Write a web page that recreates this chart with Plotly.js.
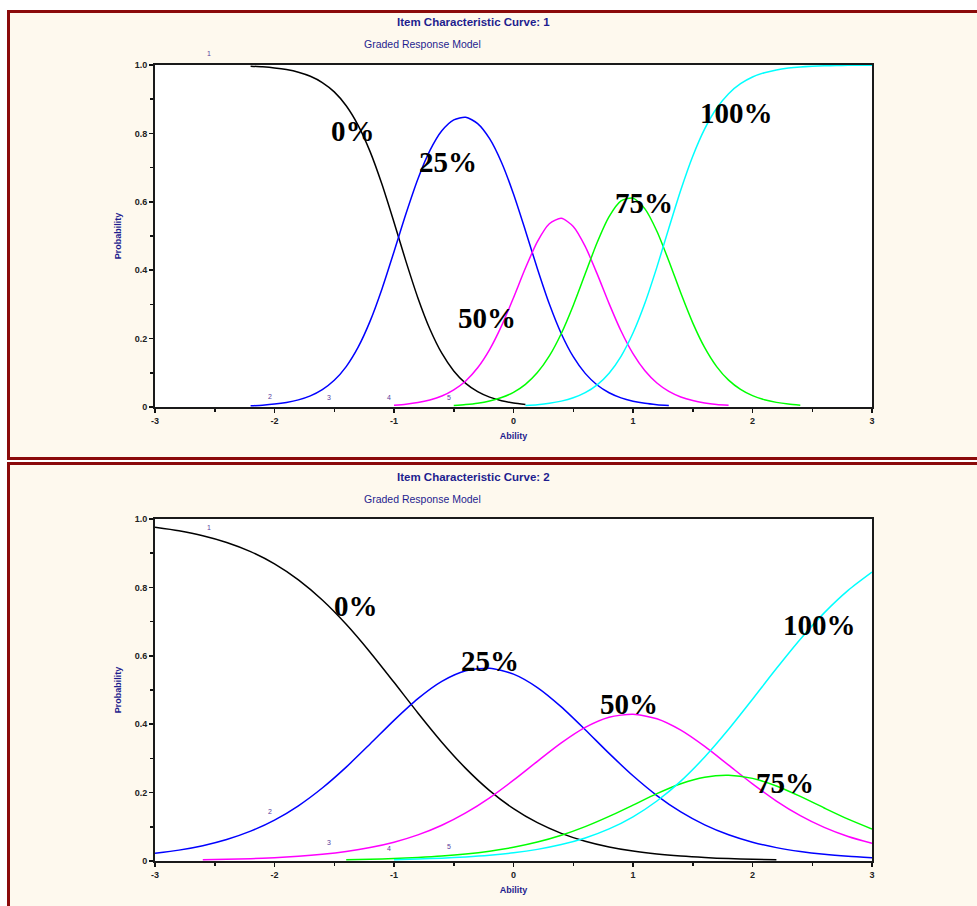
<!DOCTYPE html>
<html><head><meta charset="utf-8">
<script src="https://cdn.plot.ly/plotly-3.0.1.min.js"></script>
<style>
html,body{margin:0;padding:0;background:#ffffff;overflow:hidden;width:977px;height:906px;}
.panel{position:absolute;left:7px;width:1000px;background:#FEF9EE;border:3px solid #8B0A0A;border-right:none;box-sizing:border-box;}
#p1{top:10px;height:450px;}
#p2{top:462px;height:500px;border-bottom:none;}
.chart{position:absolute;left:0;width:977px;}
#c1{top:0;height:460px;}
#c2{top:462px;height:444px;}
</style></head>
<body>
<div class="panel" id="p1"></div>
<div class="panel" id="p2"></div>
<div class="chart" id="c1"></div>
<div class="chart" id="c2"></div>
<script>
// ---------- DATA ----------
const categories = ['0%', '25%', '50%', '75%', '100%'];
const curveNumbers = ['1', '2', '3', '4', '5'];
const xTickVals = [-3, -2, -1, 0, 1, 2, 3];
const xTickText = ['-3', '-2', '-1', '0', '1', '2', '3'];
const yTickVals = [0, 0.2, 0.4, 0.6, 0.8, 1.0];
const yTickText = ['0', '0.2', '0.4', '0.6', '0.8', '1.0'];

// Item 1
const icc1_theta_0 = [-2.2,-2.1,-2.0,-1.9,-1.8,-1.7,-1.6,-1.5,-1.4,-1.3,-1.2,-1.1,-1.0,-0.9,-0.8,-0.7,-0.6,-0.5,-0.4,-0.3,-0.2,-0.1,0.0,0.1];
const icc1_p_0 = [0.9966,0.9946,0.9915,0.9866,0.9790,0.9671,0.9488,0.9214,0.8809,0.8236,0.7467,0.6504,0.5402,0.4258,0.3189,0.2281,0.1572,0.1054,0.0691,0.0448,0.0288,0.0184,0.0117,0.0074];
const icc1_theta_25 = [-2.2,-2.1,-2.0,-1.9,-1.8,-1.7,-1.6,-1.5,-1.4,-1.3,-1.2,-1.1,-1.0,-0.9,-0.8,-0.7,-0.6,-0.5,-0.4,-0.3,-0.2,-0.1,0.0,0.1,0.2,0.3,0.4,0.5,0.6,0.7,0.8,0.9,1.0,1.1,1.2,1.3];
const icc1_p_25 = [0.0034,0.0054,0.0085,0.0134,0.0209,0.0326,0.0508,0.0780,0.1182,0.1749,0.2510,0.3460,0.4540,0.5651,0.6668,0.7494,0.8076,0.8397,0.8471,0.8287,0.7846,0.7150,0.6229,0.5156,0.4043,0.3010,0.2143,0.1471,0.0983,0.0644,0.0417,0.0267,0.0171,0.0108,0.0069,0.0044];
const icc1_theta_50 = [-1.0,-0.9,-0.8,-0.7,-0.6,-0.5,-0.4,-0.3,-0.2,-0.1,0.0,0.1,0.2,0.3,0.4,0.5,0.6,0.7,0.8,0.9,1.0,1.1,1.2,1.3,1.4,1.5,1.6,1.7,1.8];
const icc1_p_50 = [0.0053,0.0083,0.0131,0.0206,0.0322,0.0502,0.0762,0.1146,0.1678,0.2371,0.3196,0.4063,0.4835,0.5357,0.5516,0.5278,0.4696,0.3892,0.3023,0.2221,0.1559,0.1058,0.0701,0.0456,0.0294,0.0188,0.0120,0.0076,0.0049];
const icc1_theta_75 = [-0.5,-0.4,-0.3,-0.2,-0.1,0.0,0.1,0.2,0.3,0.4,0.5,0.6,0.7,0.8,0.9,1.0,1.1,1.2,1.3,1.4,1.5,1.6,1.7,1.8,1.9,2.0,2.1,2.2,2.3,2.4];
const icc1_p_75 = [0.0044,0.0072,0.0112,0.0177,0.0277,0.0430,0.0663,0.1006,0.1494,0.2150,0.2970,0.3894,0.4810,0.5567,0.6027,0.6107,0.5793,0.5140,0.4270,0.3332,0.2461,0.1735,0.1182,0.0785,0.0515,0.0331,0.0212,0.0135,0.0086,0.0054];
const icc1_theta_100 = [0.1,0.2,0.3,0.4,0.5,0.6,0.7,0.8,0.9,1.0,1.1,1.2,1.3,1.4,1.5,1.6,1.7,1.8,1.9,2.0,2.1,2.2,2.3,2.4,2.5,2.6,2.7,2.8,2.9,3.0];
const icc1_p_100 = [0.0044,0.0069,0.0109,0.0172,0.0269,0.0420,0.0649,0.0990,0.1483,0.2162,0.3040,0.4090,0.5230,0.6346,0.7334,0.8134,0.8735,0.9162,0.9452,0.9648,0.9775,0.9857,0.9909,0.9943,0.9964,0.9977,0.9985,0.9991,0.9994,0.9996];

// Item 2
const icc2_theta_0 = [-3.0,-2.8,-2.6,-2.4,-2.2,-2.0,-1.8,-1.6,-1.4,-1.2,-1.0,-0.8,-0.6,-0.4,-0.2,0.0,0.2,0.4,0.6,0.8,1.0,1.2,1.4,1.6,1.8,2.0,2.2];
const icc2_p_0 = [0.9756,0.9654,0.9512,0.9315,0.9047,0.8688,0.8220,0.7631,0.6921,0.6106,0.5225,0.4329,0.3475,0.2709,0.2059,0.1532,0.1120,0.0809,0.0579,0.0411,0.0290,0.0204,0.0143,0.0100,0.0070,0.0049,0.0034];
const icc2_theta_25 = [-3.0,-2.8,-2.6,-2.4,-2.2,-2.0,-1.8,-1.6,-1.4,-1.2,-1.0,-0.8,-0.6,-0.4,-0.2,0.0,0.2,0.4,0.6,0.8,1.0,1.2,1.4,1.6,1.8,2.0,2.2,2.4,2.6,2.8,3.0];
const icc2_p_25 = [0.0225,0.0318,0.0448,0.0628,0.0872,0.1196,0.1615,0.2134,0.2745,0.3422,0.4113,0.4748,0.5253,0.5563,0.5637,0.5465,0.5072,0.4506,0.3839,0.3146,0.2491,0.1914,0.1436,0.1057,0.0767,0.0550,0.0391,0.0277,0.0195,0.0137,0.0096];
const icc2_theta_50 = [-2.6,-2.4,-2.2,-2.0,-1.8,-1.6,-1.4,-1.2,-1.0,-0.8,-0.6,-0.4,-0.2,0.0,0.2,0.4,0.6,0.8,1.0,1.2,1.4,1.6,1.8,2.0,2.2,2.4,2.6,2.8,3.0];
const icc2_p_50 = [0.0034,0.0048,0.0068,0.0097,0.0138,0.0197,0.0279,0.0394,0.0550,0.0763,0.1045,0.1406,0.1848,0.2363,0.2915,0.3452,0.3905,0.4202,0.4292,0.4158,0.3825,0.3350,0.2803,0.2255,0.1754,0.1327,0.0982,0.0715,0.0515];
const icc2_theta_75 = [-1.4,-1.2,-1.0,-0.8,-0.6,-0.4,-0.2,0.0,0.2,0.4,0.6,0.8,1.0,1.2,1.4,1.6,1.8,2.0,2.2,2.4,2.6,2.8,3.0];
const icc2_p_75 = [0.0035,0.0050,0.0072,0.0102,0.0144,0.0204,0.0288,0.0401,0.0553,0.0753,0.1004,0.1303,0.1635,0.1970,0.2260,0.2452,0.2509,0.2416,0.2194,0.1888,0.1551,0.1224,0.0936];
const icc2_theta_100 = [-1.0,-0.8,-0.6,-0.4,-0.2,0.0,0.2,0.4,0.6,0.8,1.0,1.2,1.4,1.6,1.8,2.0,2.2,2.4,2.6,2.8,3.0];
const icc2_p_100 = [0.0040,0.0058,0.0083,0.0118,0.0168,0.0239,0.0340,0.0480,0.0673,0.0938,0.1292,0.1754,0.2336,0.3041,0.3851,0.4730,0.5627,0.6484,0.7255,0.7912,0.8445];

// label anchor positions (ability, probability)
const icc1_labelX = [-1.34, -0.546, -0.22, 1.09, 1.87];
const icc1_labelY = [0.807, 0.716, 0.26, 0.596, 0.86];
const icc2_labelX = [-1.317, -0.195, 0.968, 2.27, 2.557];
const icc2_labelY = [0.746, 0.585, 0.459, 0.228, 0.69];
const icc1_numX = [-2.546, -2.04, -1.54, -1.04, -0.54];
const icc1_numY = [1.035, 0.032, 0.029, 0.029, 0.029];
const icc2_numX = [-2.546, -2.04, -1.54, -1.04, -0.54];
const icc2_numY = [0.974, 0.146, 0.054, 0.038, 0.042];

// ---------- DRAW ----------
const W = 977;
const COLORS = ['#000000', '#0000FF', '#FF00FF', '#00FF00', '#00FFFF'];
const NAVY = '#1E1E8E';

function build(divId, H, m, thetas, probs, titleText, titlePx, subPx, labX, labY, numX, numY) {
  const pw = W - m.l - m.r, ph = H - m.t - m.b;
  const px = v => (v - m.l) / pw;
  const py = v => 1 - (v - m.t) / ph;
  const traces = thetas.map((t, i) => ({
    x: t, y: probs[i], type: 'scatter', mode: 'lines', name: categories[i],
    line: { color: COLORS[i], width: 1.5, shape: 'spline', smoothing: 0.7 },
    hoverinfo: 'skip', showlegend: false
  }));
  const ann = [];
  ann.push({ xref: 'paper', yref: 'paper', x: px(titlePx[0]), y: py(titlePx[1]), xanchor: 'left', yanchor: 'middle',
    text: titleText, showarrow: false, font: { family: 'Arial, Liberation Sans', size: 11.5, color: NAVY, weight: 'bold' } });
  ann.push({ xref: 'paper', yref: 'paper', x: px(subPx[0]), y: py(subPx[1]), xanchor: 'left', yanchor: 'middle',
    text: 'Graded Response Model', showarrow: false, font: { family: 'Arial, Liberation Sans', size: 10.5, color: NAVY } });
  categories.forEach((c, i) => ann.push({ x: labX[i], y: labY[i], xref: 'x', yref: 'y', text: c, showarrow: false,
    xanchor: 'center', yanchor: 'middle', font: { family: 'Liberation Serif, Times New Roman, serif', size: 29, color: '#000', weight: 'bold' } }));
  curveNumbers.forEach((c, i) => ann.push({ x: numX[i], y: numY[i], xref: 'x', yref: 'y domain', text: c, showarrow: false,
    xanchor: 'center', yanchor: 'middle', font: { family: 'Arial, Liberation Sans', size: 7, color: '#5A3C9C' } }));
  const axBase = {
    showgrid: false, zeroline: false, showline: true, linecolor: '#1a1a1a', linewidth: 2, mirror: true,
    ticks: 'outside', ticklen: 4, tickwidth: 1.5, tickcolor: '#111',
    tickfont: { family: 'Arial, Liberation Sans', size: 9, color: '#222', weight: 'bold' }, fixedrange: true
  };
  const layout = {
    width: W, height: H, margin: m,
    paper_bgcolor: 'rgba(0,0,0,0)', plot_bgcolor: '#ffffff',
    showlegend: false,
    xaxis: Object.assign({}, axBase, {
      range: [-3, 3], tickmode: 'array', tickvals: xTickVals, ticktext: xTickText,
      minor: { ticks: 'outside', ticklen: 3, tickwidth: 1.5, tickcolor: '#111', tick0: -3, dtick: 0.5 },
      title: { text: 'Ability', standoff: 8, font: { family: 'Arial, Liberation Sans', size: 9, color: NAVY, weight: 'bold' } }
    }),
    yaxis: Object.assign({}, axBase, {
      range: [0, 1], tickmode: 'array', tickvals: yTickVals, ticktext: yTickText,
      minor: { ticks: 'outside', ticklen: 3, tickwidth: 1.5, tickcolor: '#111', tick0: 0, dtick: 0.1 },
      title: { text: 'Probability', standoff: 12, font: { family: 'Arial, Liberation Sans', size: 9, color: NAVY, weight: 'bold' } }
    }),
    annotations: ann
  };
  Plotly.newPlot(divId, traces, layout, { staticPlot: true, displayModeBar: false });
}

build('c1', 460, { l: 155, r: 105, t: 65, b: 53 },
  [icc1_theta_0, icc1_theta_25, icc1_theta_50, icc1_theta_75, icc1_theta_100],
  [icc1_p_0, icc1_p_25, icc1_p_50, icc1_p_75, icc1_p_100],
  'Item Characteristic Curve: 1', [395, 22], [362, 44],
  icc1_labelX, icc1_labelY, icc1_numX, icc1_numY);

build('c2', 444, { l: 155, r: 105, t: 57, b: 45 },
  [icc2_theta_0, icc2_theta_25, icc2_theta_50, icc2_theta_75, icc2_theta_100],
  [icc2_p_0, icc2_p_25, icc2_p_50, icc2_p_75, icc2_p_100],
  'Item Characteristic Curve: 2', [395, 15], [362, 37],
  icc2_labelX, icc2_labelY, icc2_numX, icc2_numY);
</script>
</body></html>
